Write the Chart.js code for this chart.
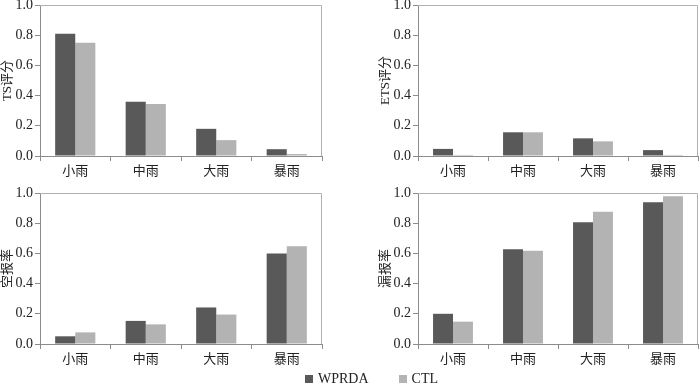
<!DOCTYPE html>
<html>
<head>
<meta charset="utf-8">
<script src="https://cdn.jsdelivr.net/npm/chart.js@4.4.1/dist/chart.umd.min.js"></script>
<style>
  html, body { margin:0; padding:0; background:#fff; }
  body { width:700px; height:385px; position:relative; overflow:hidden; }
  .panel { position:absolute; }
  #legend { position:absolute; top:371px; left:305px; display:flex; align-items:center;
    font-family:'Liberation Serif','Noto Sans CJK SC',serif; font-size:14px; color:#222; }
  #legend .item { display:flex; align-items:center; margin-right:30px; }
  #legend .sw { width:8px; height:8px; margin-right:5px; }
</style>
</head>
<body>
<div class="panel" style="left:0px;top:-10px;width:330px;height:195px"><canvas id="c1"></canvas></div>
<div class="panel" style="left:378px;top:-10px;width:322px;height:195px"><canvas id="c2"></canvas></div>
<div class="panel" style="left:0px;top:178px;width:330px;height:195px"><canvas id="c3"></canvas></div>
<div class="panel" style="left:378px;top:178px;width:322px;height:195px"><canvas id="c4"></canvas></div>
<div id="legend"></div>
<script>
const categories = ['小雨', '中雨', '大雨', '暴雨'];
const seriesNames = ['WPRDA', 'CTL'];
const seriesColors = ['#595959', '#b3b3b3'];
const yTicks = [0, 0.2, 0.4, 0.6, 0.8, 1.0];

const tsWPRDA  = [0.81, 0.36, 0.18, 0.045];
const tsCTL    = [0.75, 0.345, 0.105, 0.013];
const etsWPRDA = [0.047, 0.157, 0.117, 0.039];
const etsCTL   = [0.007, 0.157, 0.097, 0.007];
const farWPRDA = [0.051, 0.153, 0.242, 0.600];
const farCTL   = [0.077, 0.130, 0.195, 0.647];
const moWPRDA  = [0.200, 0.628, 0.807, 0.938];
const moCTL    = [0.148, 0.617, 0.876, 0.978];

const panels = [
  { id:'c1', title:'TS评分', a:tsWPRDA, b:tsCTL, padRight:8 },
  { id:'c2', title:'ETS评分', a:etsWPRDA, b:etsCTL, padRight:2 },
  { id:'c3', title:'空报率', a:farWPRDA, b:farCTL, padRight:8 },
  { id:'c4', title:'漏报率', a:moWPRDA, b:moCTL, padRight:2 },
];

const FONT = "'Liberation Serif','Noto Sans CJK SC',serif";
const AXIS = '#8c8c8c';

const framePlugin = {
  id: 'frame',
  afterDraw(chart) {
    const {ctx, chartArea:{left, right, top, bottom}} = chart;
    ctx.save();
    ctx.strokeStyle = '#b0b0b0';
    ctx.lineWidth = 1;
    ctx.beginPath();
    ctx.moveTo(left, top + 0.5);
    ctx.lineTo(right - 0.5, top + 0.5);
    ctx.lineTo(right - 0.5, bottom);
    ctx.stroke();
    ctx.restore();
  }
};

panels.forEach(p => {
  new Chart(document.getElementById(p.id), {
    type: 'bar',
    data: {
      labels: categories,
      datasets: [
        { label: seriesNames[0], data: p.a, backgroundColor: seriesColors[0] },
        { label: seriesNames[1], data: p.b, backgroundColor: seriesColors[1] },
      ]
    },
    options: {
      responsive: true,
      maintainAspectRatio: false,
      animation: false,
      layout: { padding: { top: 15, right: p.padRight, left: 0, bottom: 0 } },
      datasets: { bar: { categoryPercentage: 0.57, barPercentage: 1.0, borderWidth: 0 } },
      plugins: { legend: { display: false }, tooltip: { enabled: false } },
      scales: {
        x: {
          grid: { display: true, drawOnChartArea: false, drawTicks: true, tickLength: 5, color: AXIS, offset: true },
          border: { color: AXIS },
          ticks: { color: '#222', padding: 3, font: { family: FONT, size: 13 }, maxRotation: 0 },
          afterFit(scale) { scale.height = 29; }
        },
        y: {
          min: 0, max: 1,
          afterBuildTicks(scale) { scale.ticks = yTicks.map(v => ({ value: v })); },
          grid: { display: true, drawOnChartArea: false, drawTicks: true, tickLength: 5, color: AXIS },
          border: { color: AXIS },
          ticks: { color: '#222', padding: 2, font: { family: FONT, size: 14 },
                   callback: v => Number(v).toFixed(1) },
          title: { display: true, text: p.title, color: '#222', padding: 0,
                   font: { family: FONT, size: 13 } },
          afterFit(scale) { scale.width = 40; }
        }
      }
    },
    plugins: [framePlugin]
  });
});

const lg = document.getElementById('legend');
seriesNames.forEach((n, i) => {
  const it = document.createElement('div');
  it.className = 'item';
  const sw = document.createElement('div');
  sw.className = 'sw';
  sw.style.background = seriesColors[i];
  const tx = document.createElement('span');
  tx.textContent = n;
  it.appendChild(sw); it.appendChild(tx);
  lg.appendChild(it);
});
</script>
</body>
</html>
